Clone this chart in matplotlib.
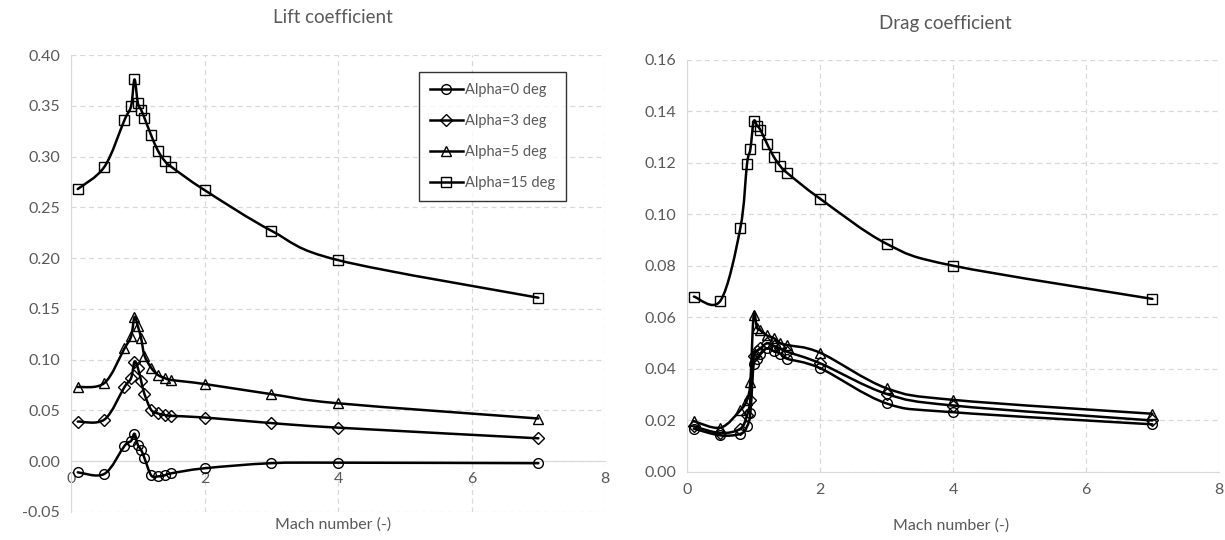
import matplotlib
matplotlib.use("Agg")
import matplotlib.pyplot as plt
from matplotlib.path import Path
from matplotlib.patches import PathPatch
from matplotlib.lines import Line2D
import numpy as np

plt.rcParams["font.family"] = ["Lato", "DejaVu Sans"]

TEXT = "#595959"
GRID = "#d9d9d9"

mach = [0.1, 0.5, 0.8, 0.9, 0.95, 1.0, 1.05, 1.1, 1.2, 1.3, 1.4, 1.5, 2, 3, 4, 7]

labels = ["Alpha=0 deg", "Alpha=3 deg", "Alpha=5 deg", "Alpha=15 deg"]
markers = ["o", "D", "^", "s"]

cl_a0 = [-0.011, -0.0125, 0.015, 0.020, 0.027, 0.016, 0.011, 0.003,
         -0.014, -0.015, -0.014, -0.012, -0.007, -0.002, -0.0015, -0.002]
cl_a3 = [0.039, 0.041, 0.073, 0.082, 0.098, 0.092, 0.079, 0.066,
         0.0505, 0.047, 0.0455, 0.0446, 0.043, 0.0375, 0.033, 0.0225]
cl_a5 = [0.073, 0.077, 0.111, 0.123, 0.142, 0.133, 0.121, 0.104,
         0.092, 0.085, 0.082, 0.080, 0.076, 0.066, 0.057, 0.042]
cl_a15 = [0.268, 0.290, 0.336, 0.350, 0.376, 0.353, 0.346, 0.338,
          0.321, 0.306, 0.296, 0.290, 0.267, 0.227, 0.198, 0.161]

cd_a0 = [0.0168, 0.0142, 0.0148, 0.0177, 0.023, 0.042, 0.044, 0.046,
         0.048, 0.047, 0.046, 0.044, 0.0403, 0.0266, 0.0232, 0.0185]
cd_a3 = [0.0177, 0.0151, 0.0168, 0.022, 0.028, 0.045, 0.047, 0.048,
         0.050, 0.049, 0.048, 0.0467, 0.0422, 0.0303, 0.0258, 0.020]
cd_a5 = [0.0197, 0.0172, 0.024, 0.028, 0.035, 0.061, 0.056, 0.055,
         0.053, 0.052, 0.050, 0.0493, 0.0463, 0.0325, 0.028, 0.0226]
cd_a15 = [0.0681, 0.0665, 0.0948, 0.1197, 0.1253, 0.1361, 0.1345, 0.1329,
          0.1275, 0.1225, 0.1188, 0.1162, 0.1061, 0.0886, 0.0801, 0.0672]


def smooth_line(ax, x, y):
    # excel-like smoothed line: cubic bezier, control points from neighbours (screen space)
    pts = ax.transData.transform(np.column_stack([x, y]))
    n = len(pts)
    verts = [pts[0]]
    codes = [Path.MOVETO]
    for i in range(n - 1):
        p0 = pts[i - 1] if i > 0 else pts[i]
        p1 = pts[i]
        p2 = pts[i + 1]
        p3 = pts[i + 2] if i + 2 < n else pts[i + 1]
        c1 = p1 + (p2 - p0) / 6.0
        c2 = p2 - (p3 - p1) / 6.0
        verts += [c1, c2, p2]
        codes += [Path.CURVE4] * 3
    verts = ax.transData.inverted().transform(np.array(verts))
    ax.add_patch(PathPatch(Path(verts, codes), fill=False, edgecolor="black",
                           lw=1.8, zorder=3, capstyle="round", joinstyle="round"))


def setup(ax, ylim, ystep):
    yt = np.arange(ylim[0], ylim[1] + ystep / 2, ystep)
    ax.set_xlim(0, 8)
    ax.set_ylim(*ylim)
    ax.set_xticks([0, 2, 4, 6, 8])
    ax.set_yticks(yt)
    ax.set_yticklabels(["%.2f" % v for v in yt])
    ax.grid(True, color=GRID, ls=(0, (4, 3)), lw=0.9)
    ax.set_axisbelow(True)
    for s in ["top", "right"]:
        ax.spines[s].set_visible(False)
    ax.spines["left"].set_color(GRID)
    ax.spines["bottom"].set_color(GRID)
    ax.spines["bottom"].set_position(("data", 0))
    ax.spines["bottom"].set_zorder(1)
    ax.tick_params(length=0, labelsize=11.5, labelcolor=TEXT, pad=8)


fig = plt.figure(figsize=(12.25, 5.4), dpi=100)

ax1 = fig.add_axes([0.058, 0.052, 0.436, 0.846])
setup(ax1, (-0.05, 0.40), 0.05)
ax2 = fig.add_axes([0.561, 0.126, 0.434, 0.763])
setup(ax2, (0.0, 0.16), 0.02)

for ax, series in [(ax1, [cl_a0, cl_a3, cl_a5, cl_a15]),
                   (ax2, [cd_a0, cd_a3, cd_a5, cd_a15])]:
    for yv, m in zip(series, markers):
        smooth_line(ax, mach, yv)
        ax.plot(mach, yv, ls="none", marker=m, ms=7 if m != "D" else 6,
                mfc="none", mec="black", mew=1.0, zorder=4)

fig.text(0.272, 0.967, "Lift coefficient", ha="center", va="center",
         fontsize=13.5, color=TEXT)
fig.text(0.772, 0.956, "Drag coefficient", ha="center", va="center",
         fontsize=13.5, color=TEXT)
fig.text(0.272, 0.028, "Mach number (-)", ha="center", va="center",
         fontsize=11.5, color=TEXT)
fig.text(0.776, 0.026, "Mach number (-)", ha="center", va="center",
         fontsize=11.5, color=TEXT)

handles = [Line2D([], [], color="black", lw=1.8, marker=m,
                  ms=7 if m != "D" else 6, mfc="none", mec="black", mew=1.0)
           for m in markers]
leg = ax1.legend(handles, labels, loc="upper left", bbox_to_anchor=(0.651, 0.962),
                 frameon=True, fancybox=False, fontsize=10.5, labelcolor=TEXT,
                 handlelength=2.3, handletextpad=0.1, labelspacing=1.15,
                 borderpad=0.75, borderaxespad=0)
leg.get_frame().set_edgecolor("black")
leg.get_frame().set_linewidth(1.0)

fig.savefig("out.png", dpi=100)
